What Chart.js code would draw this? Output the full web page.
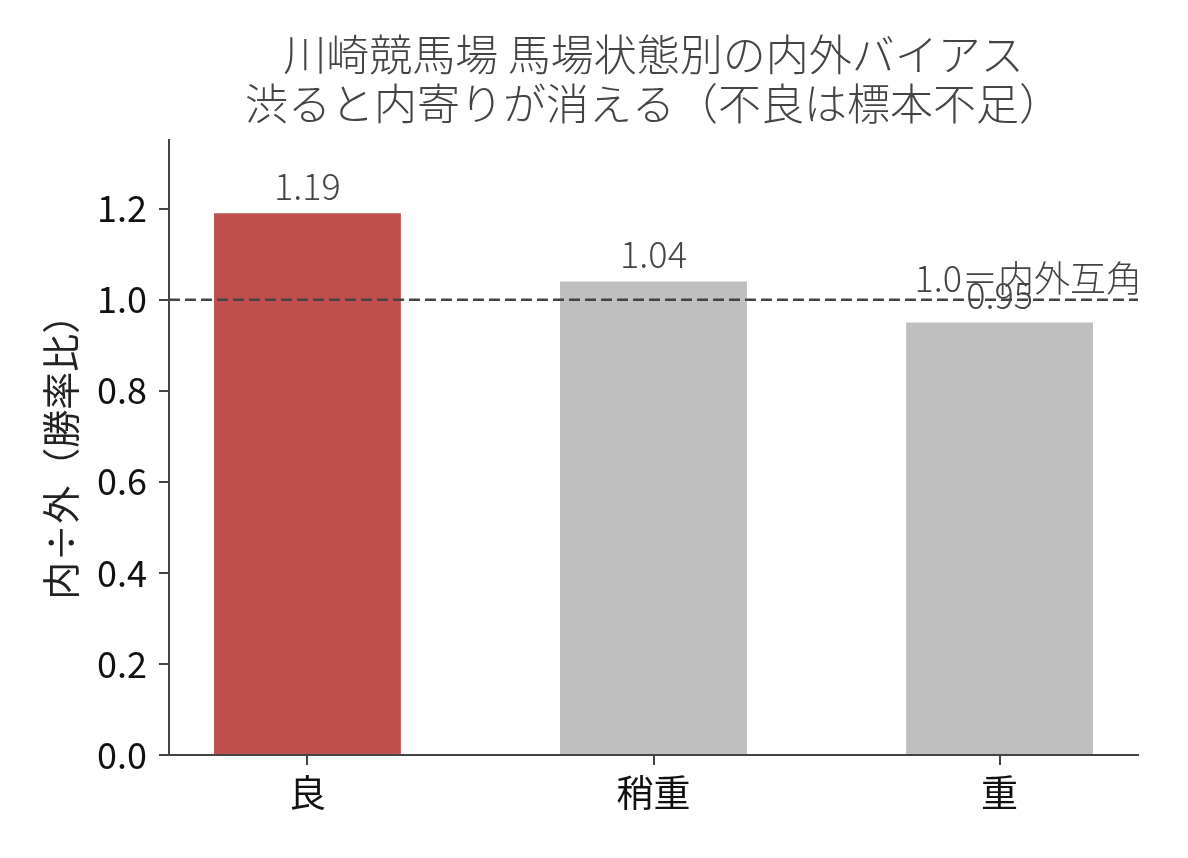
<!DOCTYPE html>
<html>
<head>
<meta charset="utf-8">
<script src="https://cdn.jsdelivr.net/npm/chart.js@4/dist/chart.umd.min.js"></script>
<style>
  html, body { margin: 0; padding: 0; background: #fff; }
  #wrap { width: 1188px; height: 858px; }
</style>
</head>
<body>
<div id="wrap"><canvas id="chart"></canvas></div>
<script>
// --- data ---
const categories = ['良', '稍重', '重'];
const ratios = [1.19, 1.04, 0.95];
const barColors = ['#c0504d', '#bfbfbf', '#bfbfbf'];
const yTicks = [0, 0.2, 0.4, 0.6, 0.8, 1.0, 1.2];
const refValue = 1.0;
const refLabel = '1.0＝内外互角';
const titleLines = ['川崎競馬場 馬場状態別の内外バイアス', '渋ると内寄りが消える（不良は標本不足）'];
const yTitle = '内÷外（勝率比）';

const FONT = "'Noto Sans CJK JP', 'Noto Sans', sans-serif";

// reference line, its label and the value labels over bars
const overlay = {
  id: 'overlay',
  afterDatasetsDraw(chart) {
    const { ctx, chartArea, scales } = chart;
    const x = scales.x, y = scales.y;
    ctx.save();

    // bar value labels
    ctx.font = '300 36px ' + FONT;
    ctx.fillStyle = '#444';
    ctx.textAlign = 'center';
    ctx.textBaseline = 'alphabetic';
    ratios.forEach((v, i) => {
      ctx.fillText(v.toFixed(2), x.getPixelForValue(i), y.getPixelForValue(v) - 13);
    });

    // dashed line at 1.0
    const py = y.getPixelForValue(refValue);
    ctx.strokeStyle = '#444';
    ctx.lineWidth = 2.5;
    ctx.setLineDash([11, 5]);
    ctx.beginPath();
    ctx.moveTo(chartArea.left, py);
    ctx.lineTo(chartArea.right, py);
    ctx.stroke();
    ctx.setLineDash([]);

    ctx.font = '300 36px ' + FONT;
    ctx.textAlign = 'right';
    ctx.fillText(refLabel, chartArea.right + 4, py - 8);
    ctx.restore();
  }
};

new Chart(document.getElementById('chart'), {
  type: 'bar',
  data: {
    datasets: [{
      data: ratios.map((v, i) => ({ x: i, y: v })),
      backgroundColor: barColors,
      categoryPercentage: 0.54,
      barPercentage: 1.0
    }]
  },
  options: {
    responsive: true,
    maintainAspectRatio: false,
    animation: false,
    layout: { padding: { left: 0, right: 50, top: 0, bottom: 0 } },
    plugins: {
      legend: { display: false },
      tooltip: { enabled: false },
      title: {
        display: true,
        fullSize: false,
        text: titleLines,
        color: '#444',
        font: { family: FONT, size: 43, weight: '300', lineHeight: 1.12 },
        padding: { top: 31, bottom: 13 }
      }
    },
    scales: {
      x: {
        type: 'linear',
        min: -0.4,
        max: 2.4,
        offset: false,
        afterBuildTicks: (s) => { s.ticks = categories.map((c, i) => ({ value: i })); },
        afterFit: (s) => { s.height = 103; },
        ticks: {
          color: '#111',
          font: { family: FONT, size: 37 },
          padding: 6,
          callback: (v) => categories[v]
        },
        grid: { offset: false, drawOnChartArea: false, drawTicks: true, tickLength: 10, color: '#444', lineWidth: 2 },
        border: { display: true, color: '#444', width: 2 }
      },
      y: {
        min: 0,
        max: 1.35,
        afterBuildTicks: (s) => { s.ticks = yTicks.map(v => ({ value: v })); },
        afterFit: (s) => { s.width = 169; },
        ticks: {
          color: '#111',
          font: { family: FONT, size: 36 },
          padding: 12,
          callback: (v) => v.toFixed(1)
        },
        grid: { drawOnChartArea: false, drawTicks: true, tickLength: 10, color: '#444', lineWidth: 2 },
        border: { display: true, color: '#444', width: 2 },
        title: {
          display: true,
          text: yTitle,
          color: '#222',
          font: { family: FONT, size: 38 },
          padding: { top: 38, bottom: 0 }
        }
      }
    }
  },
  plugins: [overlay]
});
</script>
</body>
</html>
